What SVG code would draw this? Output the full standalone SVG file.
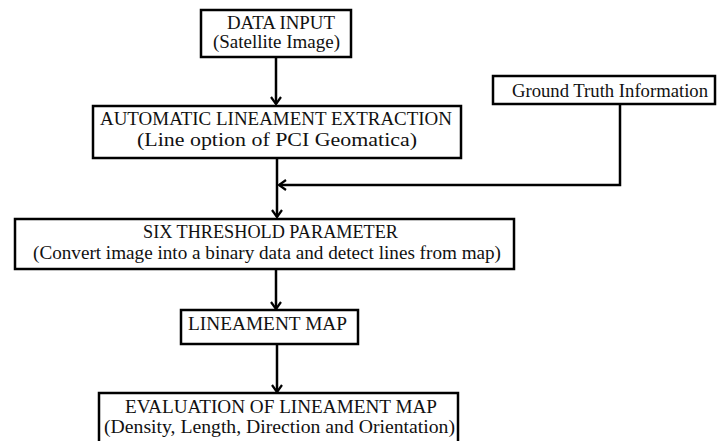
<svg xmlns="http://www.w3.org/2000/svg" width="718" height="441" viewBox="0 0 718 441">
<style>
.box{fill:#fff;stroke:#000;stroke-width:2.5}
.t{font-family:"Liberation Serif","Times New Roman",Times,serif;font-size:18px;fill:#111}
.c{fill:none;stroke:#000;stroke-width:2.5}
</style>
<defs>
<marker id="ah" markerWidth="12" markerHeight="12" viewBox="0 0 12 12" refX="10" refY="6" orient="auto" markerUnits="userSpaceOnUse">
<path d="M3,1 L10,6 L3,11" fill="none" stroke="#000" stroke-width="2.2"/>
</marker>
</defs>
<rect width="718" height="441" fill="#fff"/>
<g id="connectors">
<line class="c" x1="276" y1="57" x2="276" y2="104" marker-end="url(#ah)"/>
<line class="c" x1="277" y1="158" x2="277" y2="217" marker-end="url(#ah)"/>
<polyline class="c" points="620,104 620,185 279,185" marker-end="url(#ah)"/>
<line class="c" x1="276" y1="269" x2="276" y2="309" marker-end="url(#ah)"/>
<line class="c" x1="277" y1="344" x2="277" y2="392" marker-end="url(#ah)"/>
</g>
<g id="data-input">
<rect class="box" x="201" y="10" width="150" height="47"/>
<text class="t" x="227" y="29" textLength="108" lengthAdjust="spacingAndGlyphs">DATA INPUT</text>
<text class="t" x="213" y="48" textLength="127" lengthAdjust="spacingAndGlyphs">(Satellite Image)</text>
</g>
<g id="extraction">
<rect class="box" x="93" y="106" width="368" height="52"/>
<text class="t" x="100" y="125" textLength="352" lengthAdjust="spacingAndGlyphs">AUTOMATIC LINEAMENT EXTRACTION</text>
<text class="t" x="137" y="146" textLength="280" lengthAdjust="spacingAndGlyphs">(Line option of PCI Geomatica)</text>
</g>
<g id="ground-truth">
<rect class="box" x="493" y="76" width="222" height="28"/>
<text class="t" x="512" y="97" textLength="196" lengthAdjust="spacingAndGlyphs">Ground Truth Information</text>
</g>
<g id="threshold">
<rect class="box" x="15" y="219" width="499" height="50"/>
<text class="t" x="143" y="238" textLength="255" lengthAdjust="spacingAndGlyphs">SIX THRESHOLD PARAMETER</text>
<text class="t" x="33" y="259" textLength="468" lengthAdjust="spacingAndGlyphs">(Convert image into a binary data and detect lines from map)</text>
</g>
<g id="lineament-map">
<rect class="box" x="181" y="310" width="177" height="34"/>
<text class="t" x="188" y="330" textLength="159" lengthAdjust="spacingAndGlyphs">LINEAMENT MAP</text>
</g>
<g id="evaluation">
<rect class="box" x="99" y="393" width="359" height="55"/>
<text class="t" x="125" y="413" textLength="312" lengthAdjust="spacingAndGlyphs">EVALUATION OF LINEAMENT MAP</text>
<text class="t" x="104" y="433" textLength="351" lengthAdjust="spacingAndGlyphs">(Density, Length, Direction and Orientation)</text>
</g>
</svg>
